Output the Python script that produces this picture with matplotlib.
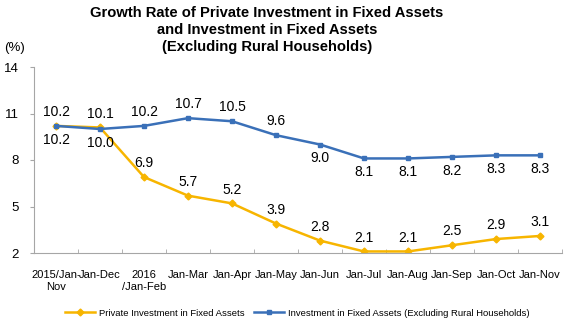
import matplotlib
matplotlib.use("Agg")
import matplotlib.pyplot as plt
import numpy as np

plt.rcParams['font.family'] = ['Liberation Sans', 'DejaVu Sans']

categories = ["2015/Jan-\nNov", "Jan-Dec", "2016\n/Jan-Feb", "Jan-Mar", "Jan-Apr", "Jan-May",
              "Jan-Jun", "Jan-Jul", "Jan-Aug", "Jan-Sep", "Jan-Oct", "Jan-Nov"]
private = [10.2, 10.1, 6.9, 5.7, 5.2, 3.9, 2.8, 2.1, 2.1, 2.5, 2.9, 3.1]
total = [10.2, 10.0, 10.2, 10.7, 10.5, 9.6, 9.0, 8.1, 8.1, 8.2, 8.3, 8.3]
yticks = [2, 5, 8, 11, 14]

# label placement: +1 above, -1 below
private_pos = [-1, 1, 1, 1, 1, 1, 1, 1, 1, 1, 1, 1]
total_pos = [1, -1, 1, 1, 1, 1, -1, -1, -1, -1, -1, -1]

orange = "#F7B500"
blue = "#3A70B8"
grey = "#A6A6A6"

fig = plt.figure(figsize=(5.66, 3.23), dpi=100)
ax = fig.add_axes([34 / 566, 70 / 323, 528 / 566, 186 / 323])

x = np.arange(len(categories))
ax.plot(x, private, color=orange, lw=1.8, marker="D", ms=3.5,
        label="Private Investment in Fixed Assets")
ax.plot(x, total, color=blue, lw=1.8, marker="s", ms=3.5,
        label="Investment in Fixed Assets (Excluding Rural Households)")

for xi, v, p in zip(x, private, private_pos):
    ax.annotate(f"{v:.1f}", (xi, v), xytext=(0, 10 * p), textcoords="offset points",
                ha="center", va="center", fontsize=10)
for xi, v, p in zip(x, total, total_pos):
    ax.annotate(f"{v:.1f}", (xi, v), xytext=(0, 10 * p), textcoords="offset points",
                ha="center", va="center", fontsize=10)

ax.set_xlim(-0.5, len(categories) - 0.5)
ax.set_ylim(2, 14)
ax.set_yticks(yticks)
ax.set_yticklabels([str(t) for t in yticks], fontsize=9.5)
ax.set_xticks(x)
ax.set_xticklabels(categories, fontsize=8, linespacing=1.3)
ax.set_xticks(np.arange(len(categories) + 1) - 0.5, minor=True)
ax.tick_params(axis="x", which="major", length=0, pad=12)
ax.tick_params(axis="x", which="minor", length=3, direction="in", color=grey)
ax.tick_params(axis="y", length=3, color=grey, pad=8)

for s in ["top", "right"]:
    ax.spines[s].set_visible(False)
for s in ["left", "bottom"]:
    ax.spines[s].set_color(grey)

fig.text(267 / 566, 1 - 30 / 323,
         "Growth Rate of Private Investment in Fixed Assets\nand Investment in Fixed Assets\n(Excluding Rural Households)",
         ha="center", va="center", fontsize=10.6, fontweight="bold", linespacing=1.3)
fig.text(4 / 566, 1 - 48 / 323, "(%)", ha="left", va="center", fontsize=9.5)

fig.legend(loc="center", bbox_to_anchor=(297 / 566, 1 - 313 / 323), ncol=2, frameon=False,
           fontsize=6.8, handlelength=3.2, columnspacing=1.0, handletextpad=0.4)

fig.savefig("out.png", dpi=100)
